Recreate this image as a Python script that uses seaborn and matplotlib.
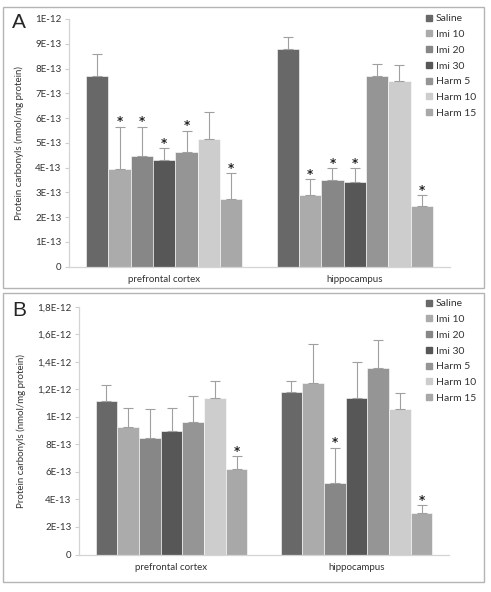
import matplotlib
matplotlib.use('Agg')
import matplotlib.pyplot as plt
import seaborn as sns
import pandas as pd
from matplotlib.patches import Rectangle
from matplotlib.lines import Line2D

# data
regions = ['prefrontal cortex', 'hippocampus']
treatments = ['Saline', 'Imi 10', 'Imi 20', 'Imi 30', 'Harm 5', 'Harm 10', 'Harm 15']
colors = ['#686868', '#ababab', '#878787', '#575757', '#959595', '#cdcdcd', '#a8a8a8']

# panel A (x 1E-13)
a_pfc = [7.70, 3.93, 4.47, 4.31, 4.62, 5.16, 2.73]
a_pfc_sd = [0.89, 1.72, 1.18, 0.47, 0.87, 1.07, 1.04]
a_hip = [8.78, 2.89, 3.50, 3.43, 7.70, 7.50, 2.46]
a_hip_sd = [0.48, 0.65, 0.47, 0.54, 0.48, 0.64, 0.43]
a_pfc_sig = [0, 1, 1, 1, 1, 0, 1]
a_hip_sig = [0, 1, 1, 1, 0, 0, 1]
a_ticks = [0, 1, 2, 3, 4, 5, 6, 7, 8, 9, 10]
a_ticklabels = ['0', '1E-13', '2E-13', '3E-13', '4E-13', '5E-13', '6E-13',
                '7E-13', '8E-13', '9E-13', '1E-12']

# panel B (x 1E-12)
b_pfc = [1.118, 0.927, 0.844, 0.895, 0.965, 1.140, 0.621]
b_pfc_sd = [0.114, 0.140, 0.216, 0.172, 0.185, 0.121, 0.095]
b_hip = [1.179, 1.249, 0.522, 1.140, 1.353, 1.057, 0.299]
b_hip_sd = [0.082, 0.279, 0.254, 0.257, 0.206, 0.115, 0.058]
b_pfc_sig = [0, 0, 0, 0, 0, 0, 1]
b_hip_sig = [0, 0, 1, 0, 0, 0, 1]
b_ticks = [0, 0.2, 0.4, 0.6, 0.8, 1.0, 1.2, 1.4, 1.6, 1.8]
b_ticklabels = ['0', '2E-13', '4E-13', '6E-13', '8E-13', '1E-12',
                '1,2E-12', '1,4E-12', '1,6E-12', '1,8E-12']

ylabel = 'Protein carbonyls (nmol/mg protein)'

sns.set_style('white')
plt.rcParams['font.family'] = ['Lato', 'DejaVu Sans']

fig = plt.figure(figsize=(4.91, 5.92), dpi=100)


def panel(ax, pfc, pfc_sd, hip, hip_sd, pfc_sig, hip_sig, ticks, ticklabels, ymax, label_x):
    df = pd.DataFrame({
        'region': [regions[0]] * 7 + [regions[1]] * 7,
        'treatment': treatments * 2,
        'value': pfc + hip,
    })
    sns.barplot(data=df, x='region', y='value', hue='treatment', hue_order=treatments,
                order=regions, palette=colors, width=0.82, gap=0, errorbar=None,
                saturation=1, legend=False, edgecolor='white', linewidth=0.4, ax=ax)
    sds = [pfc_sd, hip_sd]
    sigs = [pfc_sig, hip_sig]
    # copy the bar containers first, errorbar adds its own containers
    bar_conts = list(ax.containers)
    for i, cont in enumerate(bar_conts):
        for j, bar in enumerate(cont.patches):
            x = bar.get_x() + bar.get_width() / 2
            y = bar.get_height()
            sd = sds[j][i]
            ax.errorbar([x], [y], yerr=[[0], [sd]], fmt='none', ecolor='#a0a0a0',
                        elinewidth=0.8, capsize=3.5, capthick=0.8)
            if sigs[j][i]:
                ax.annotate('*', (x, y + sd), xytext=(0, 3.5), textcoords='offset points',
                            ha='center', va='center', fontsize=8.5, fontweight='bold',
                            color='#222222', family='DejaVu Sans')
    ax.set_xlim(-0.5, 1.5)
    ax.set_ylim(0, ymax)
    ax.set_yticks(ticks, ticklabels)
    ax.set_xlabel('')
    ax.set_ylabel(ylabel, fontsize=7, color='#333333')
    ax.yaxis.set_label_coords(label_x, 0.5)
    ax.tick_params(axis='y', labelsize=7, labelcolor='#333333', length=3,
                   color='#cfcfcf', width=0.8, pad=2.5, left=True)
    ax.tick_params(axis='x', labelsize=7, labelcolor='#333333', length=0, pad=6)
    for s in ['top', 'right']:
        ax.spines[s].set_visible(False)
    for s in ['left', 'bottom']:
        ax.spines[s].set_color('#d4d4d4')
        ax.spines[s].set_linewidth(0.9)


W, H = 491, 592
ax_a = fig.add_axes([69 / W, 1 - 266.7 / H, 381 / W, 247.7 / H])
panel(ax_a, a_pfc, a_pfc_sd, a_hip, a_hip_sd, a_pfc_sig, a_hip_sig,
      a_ticks, a_ticklabels, 10, -0.119)
ax_b = fig.add_axes([79 / W, 1 - 554.5 / H, 370 / W, 247.8 / H])
panel(ax_b, b_pfc, b_pfc_sd, b_hip, b_hip_sd, b_pfc_sig, b_hip_sig,
      b_ticks, b_ticklabels, 1.8, -0.143)

# outer frames
for top, bottom in [(7, 288), (293, 582)]:
    fig.patches.append(Rectangle((3 / W, 1 - bottom / H), 481 / W, (bottom - top) / H,
                                 fill=False, edgecolor='#b4b4b4', linewidth=1,
                                 transform=fig.transFigure))

# panel letters
fig.text(12 / W, 1 - 22 / H, 'A', fontsize=15, family='Liberation Sans', va='center')
fig.text(12 / W, 1 - 311 / H, 'B', fontsize=15, family='Liberation Sans', va='center')

# legends
handles = [Line2D([], [], marker='s', linestyle='none', markersize=4.2,
                  markerfacecolor=c, markeredgecolor=c) for c in colors]
for top in [14, 299]:
    fig.legend(handles, treatments, loc='upper left',
               bbox_to_anchor=(426 / W, 1 - top / H), frameon=False, fontsize=7.5,
               borderpad=0, borderaxespad=0, labelspacing=0.62, handlelength=0.6,
               handletextpad=0.35, labelcolor='#333333')

fig.savefig('out.png', dpi=100)
